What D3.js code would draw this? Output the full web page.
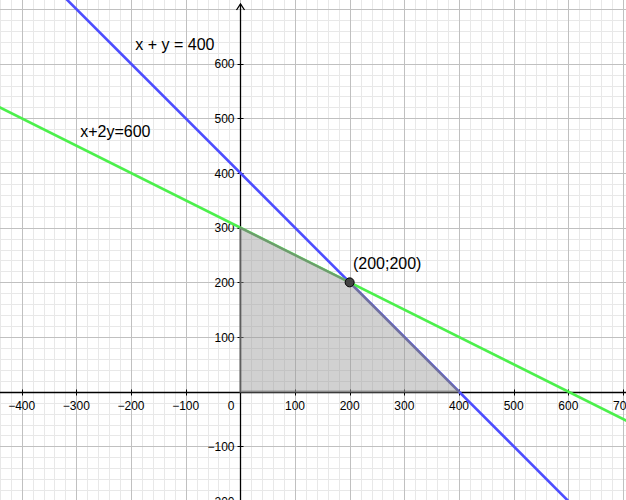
<!DOCTYPE html>
<html>
<head>
  <meta charset="utf-8">
  <script src="https://cdn.jsdelivr.net/npm/d3@7"></script>
  <style>
    body, html { margin: 0; padding: 0; background: white; overflow: hidden; }
    svg { display: block; font-family: 'Liberation Sans', Arial, sans-serif; }
  </style>
</head>
<body>
  <svg id="chart" width="626" height="500"></svg>
  <script>
    // view window (in data units)
    const xDomain = [-439.6, 705.5];
    const yDomain = [-198.1, 716.5];

    const xTicks = [-400, -300, -200, -100, 100, 200, 300, 400, 500, 600, 700];
    const yTicks = [-200, -100, 100, 200, 300, 400, 500, 600];

    // lines a*x + b*y = c
    const lines = [
      { a: 1, b: 1, c: 400, color: "#4d4dff", label: "x + y = 400", lx: -192, ly: 625 },
      { a: 1, b: 2, c: 600, color: "#4cf04c", label: "x+2y=600", lx: -293, ly: 466 }
    ];

    // feasible region
    const region = [[0, 0], [400, 0], [200, 200], [0, 300]];

    const point = { x: 200, y: 200, label: "(200;200)", lx: 206, ly: 224 };

    const width = 626, height = 500;
    const svg = d3.select("#chart");

    const x = d3.scaleLinear().domain(xDomain).range([0, width]);
    const y = d3.scaleLinear().domain(yDomain).range([height, 0]);

    // grid
    const minorX = d3.range(-440, 720, 20);
    const minorY = d3.range(-200, 720, 20);

    const grid = svg.append("g").attr("shape-rendering", "crispEdges");
    grid.selectAll(".vminor").data(minorX.filter(d => d % 100 !== 0)).join("line")
      .attr("x1", d => Math.round(x(d)) + 0.5).attr("x2", d => Math.round(x(d)) + 0.5)
      .attr("y1", 0).attr("y2", height)
      .attr("stroke", "#e8e8e8");
    grid.selectAll(".hminor").data(minorY.filter(d => d % 100 !== 0)).join("line")
      .attr("y1", d => Math.round(y(d)) + 0.5).attr("y2", d => Math.round(y(d)) + 0.5)
      .attr("x1", 0).attr("x2", width)
      .attr("stroke", "#e8e8e8");
    grid.selectAll(".vmajor").data(minorX.filter(d => d % 100 === 0)).join("line")
      .attr("x1", d => Math.round(x(d)) + 0.5).attr("x2", d => Math.round(x(d)) + 0.5)
      .attr("y1", 0).attr("y2", height)
      .attr("stroke", "#c0c0c0");
    grid.selectAll(".hmajor").data(minorY.filter(d => d % 100 === 0)).join("line")
      .attr("y1", d => Math.round(y(d)) + 0.5).attr("y2", d => Math.round(y(d)) + 0.5)
      .attr("x1", 0).attr("x2", width)
      .attr("stroke", "#c0c0c0");

    // axes
    const x0 = Math.round(x(0)) + 0.5;
    const y0 = Math.round(y(0)) + 0.5;
    const axes = svg.append("g").attr("stroke", "black").attr("stroke-width", 1.3);
    axes.append("line").attr("x1", 0).attr("x2", width).attr("y1", y0).attr("y2", y0);
    axes.append("line").attr("x1", x0).attr("x2", x0).attr("y1", 4).attr("y2", height);
    axes.append("path").attr("fill", "none")
      .attr("d", `M ${x0 - 4} ${10} L ${x0} ${4} L ${x0 + 4} ${10}`);

    // tick marks
    axes.selectAll(".xt").data(xTicks).join("line")
      .attr("x1", d => Math.round(x(d)) + 0.5).attr("x2", d => Math.round(x(d)) + 0.5)
      .attr("y1", y0 - 3).attr("y2", y0 + 3).attr("stroke-width", 1);
    axes.selectAll(".yt").data(yTicks).join("line")
      .attr("y1", d => Math.round(y(d)) + 0.5).attr("y2", d => Math.round(y(d)) + 0.5)
      .attr("x1", x0 - 3).attr("x2", x0 + 3).attr("stroke-width", 1);

    const fmt = d => d < 0 ? "\u2212" + Math.abs(d) : String(d);

    const labels = svg.append("g").attr("font-size", 12).attr("fill", "black");
    labels.selectAll(".xl").data(xTicks).join("text")
      .attr("x", d => x(d)).attr("y", y0 + 17)
      .attr("text-anchor", "middle")
      .text(fmt);
    labels.selectAll(".yl").data(yTicks).join("text")
      .attr("x", x0 - 6).attr("y", d => y(d) + 4.5)
      .attr("text-anchor", "end")
      .text(fmt);
    labels.append("text").attr("x", x0 - 6).attr("y", y0 + 17)
      .attr("text-anchor", "end").text("0");

    // the two lines
    const clipLine = l => {
      const xs = [xDomain[0] - 50, xDomain[1] + 50];
      return xs.map(v => [v, (l.c - l.a * v) / l.b]);
    };
    svg.selectAll(".eq").data(lines).join("path")
      .attr("d", d => d3.line().x(p => x(p[0])).y(p => y(p[1]))(clipLine(d)))
      .attr("stroke", d => d.color)
      .attr("stroke-width", 2.6)
      .attr("fill", "none");

    // region
    svg.append("path")
      .attr("d", d3.line().x(p => x(p[0])).y(p => y(p[1]))(region) + "Z")
      .attr("fill", "rgba(153,153,153,0.45)")
      .attr("stroke", "rgba(120,120,120,0.65)")
      .attr("stroke-width", 2.2)
      .attr("stroke-linejoin", "round");

    // line labels
    svg.selectAll(".eql").data(lines).join("text")
      .attr("x", d => x(d.lx)).attr("y", d => y(d.ly))
      .attr("font-size", 16)
      .text(d => d.label);

    // intersection point
    svg.append("circle")
      .attr("cx", x(point.x)).attr("cy", y(point.y)).attr("r", 4.5)
      .attr("fill", "#444").attr("stroke", "black").attr("stroke-width", 1);
    svg.append("text")
      .attr("x", x(point.lx)).attr("y", y(point.ly))
      .attr("font-size", 16)
      .text(point.label);
  </script>
</body>
</html>
